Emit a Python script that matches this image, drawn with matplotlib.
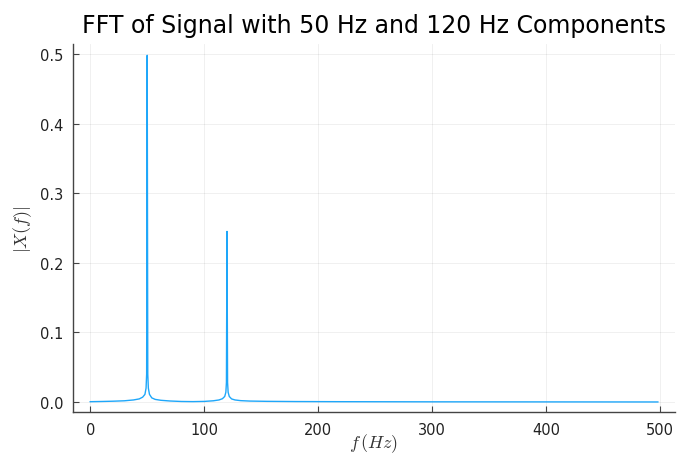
import matplotlib
matplotlib.use("Agg")
import matplotlib.pyplot as plt

# Spectrum (one-sided, Hz vs |X(f)|)
freqs = [0, 10, 20, 30, 38, 43, 46, 48, 49, 49.5, 50, 50.5, 51, 52, 54, 57,
         62, 70, 80, 90, 100, 108, 113, 116, 118, 119, 119.5, 120, 120.5, 121,
         122, 124, 127, 132, 140, 155, 180, 220, 300, 400, 498]
mags = [0.0005, 0.0008, 0.0012, 0.0018, 0.003, 0.0045, 0.007, 0.011, 0.02,
        0.04, 0.498, 0.04, 0.02, 0.011, 0.006, 0.0038, 0.0025, 0.0015,
        0.0008, 0.0006, 0.0009, 0.0018, 0.003, 0.0048, 0.008, 0.014, 0.028,
        0.245, 0.028, 0.014, 0.008, 0.0045, 0.003, 0.002, 0.0014, 0.001,
        0.0007, 0.0005, 0.0003, 0.0002, 0.0001]

xticks = [0, 100, 200, 300, 400, 500]
yticks = [0.0, 0.1, 0.2, 0.3, 0.4, 0.5]
title = "FFT of Signal with 50 Hz and 120 Hz Components"

plt.rcParams['mathtext.fontset'] = 'cm'

fig = plt.figure(figsize=(6.77, 4.56), dpi=100)
ax = fig.add_axes([0.108, 0.094, 0.889, 0.807])

ax.plot(freqs, mags, color='#1EA7FA', linewidth=1.0)

ax.set_xlim(-15, 513)
ax.set_ylim(-0.0145, 0.514)
ax.set_xticks(xticks)
ax.set_yticks(yticks)
ax.set_yticklabels([f"{v:.1f}" for v in yticks])

ax.grid(True, color='#000000', alpha=0.07, linewidth=0.6)
for s in ['top', 'right']:
    ax.spines[s].set_visible(False)
for s in ['left', 'bottom']:
    ax.spines[s].set_color('#444444')
    ax.spines[s].set_linewidth(1.0)
ax.tick_params(direction='in', length=4, width=0.8, color='#444444',
               labelsize=10.5, labelcolor='#222222', pad=7)

ax.set_xlabel(r'$f\,(Hz)$', fontsize=13, color='#333333')
ax.xaxis.set_label_coords(0.5, -0.052)
ax.set_ylabel(r'$|X(f)|$', fontsize=13, color='#333333', labelpad=4)
ax.set_title(title, fontsize=17, pad=9)

fig.savefig("out.png", dpi=100)
